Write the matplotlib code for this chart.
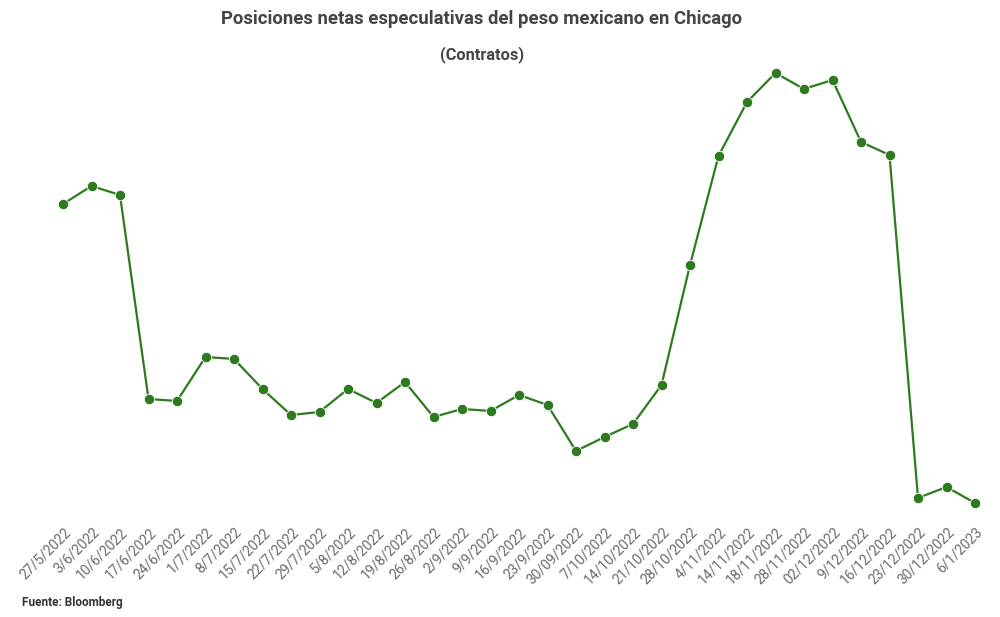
import matplotlib
matplotlib.use("Agg")
import matplotlib.pyplot as plt
import matplotlib.transforms as mtransforms

plt.rcParams['font.family'] = ['Roboto', 'DejaVu Sans']

# semanas (etiquetas del eje x)
fechas = ["27/5/2022", "3/6/2022", "10/6/2022", "17/6/2022", "24/6/2022",
          "1/7/2022", "8/7/2022", "15/7/2022", "22/7/2022", "29/7/2022",
          "5/8/2022", "12/8/2022", "19/8/2022", "26/8/2022", "2/9/2022",
          "9/9/2022", "16/9/2022", "23/9/2022", "30/09/2022", "7/10/2022",
          "14/10/2022", "21/10/2022", "28/10/2022", "4/11/2022", "14/11/2022",
          "18/11/2022", "28/11/2022", "02/12/2022", "9/12/2022", "16/12/2022",
          "23/12/2022", "30/12/2022", "6/1/2023"]

# posiciones netas (contratos, estimado)
contratos = [56880, 60120, 58500, 21780, 21420,
             29340, 28980, 23580, 18900, 19440,
             23580, 21060, 24840, 18540, 19980,
             19620, 22500, 20700, 12420, 14940,
             17280, 24300, 45900, 65520, 75240,
             80460, 77580, 79200, 68040, 65700,
             3960, 5940, 3060]

verde = '#2e7a1f'

fig = plt.figure(figsize=(10, 6.17), dpi=100)
ax = fig.add_axes([0.063, 0.1848, 0.912, 0.6969])

x = list(range(len(fechas)))
ax.plot(x, contratos, color=verde, lw=1.6, marker='o', ms=7.5,
        markeredgecolor='white', markeredgewidth=0.6, clip_on=False)

ax.set_xlim(0, len(fechas) - 1)
ax.set_ylim(min(contratos), max(contratos))
ax.set_xticks(x)
ax.set_xticklabels(fechas, rotation=45, ha='right', rotation_mode='anchor',
                   fontsize=10, color='#6a6a6a')
ax.tick_params(axis='x', length=0, pad=16)
# mover las etiquetas un poco a la derecha
desplaza = mtransforms.ScaledTranslation(0.5/100, 0, fig.dpi_scale_trans)
for lbl in ax.get_xticklabels():
    lbl.set_transform(lbl.get_transform() + desplaza)
ax.set_yticks([])
for s in ax.spines.values():
    s.set_visible(False)

fig.text(0.482, 0.970, "Posiciones netas especulativas del peso mexicano en Chicago",
         ha='center', va='center', fontsize=13.3, fontweight='bold', color='#444444')
fig.text(0.482, 0.912, "(Contratos)", ha='center', va='center',
         fontsize=11.8, fontweight='bold', color='#444444')
fig.text(0.022, 0.023, "Fuente: Bloomberg", ha='left', va='center',
         fontsize=8.5, fontweight='bold', color='#333333')

fig.savefig("out.png", dpi=100)
